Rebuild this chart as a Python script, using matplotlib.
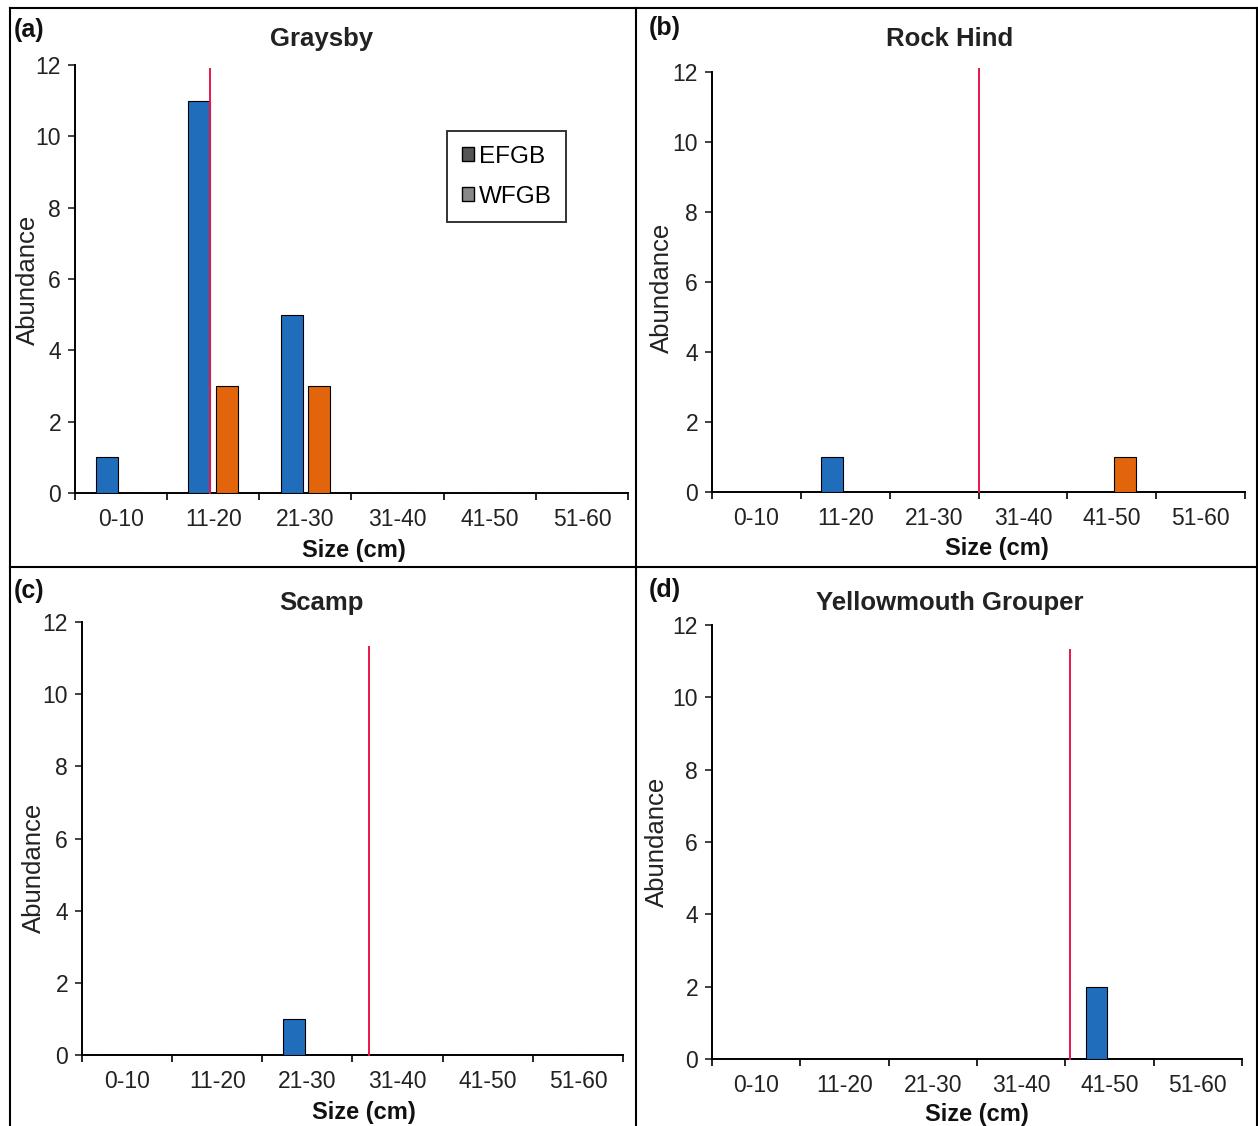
import matplotlib
matplotlib.use("Agg")
import matplotlib.pyplot as plt
from matplotlib.lines import Line2D
from matplotlib.patches import Patch
import numpy as np

plt.rcParams['font.family'] = ['Liberation Sans', 'DejaVu Sans']

categories = ['0-10', '11-20', '21-30', '31-40', '41-50', '51-60']
titles = ['Graysby', 'Rock Hind', 'Scamp', 'Yellowmouth Grouper']
panel_tags = ['(a)', '(b)', '(c)', '(d)']
efgb = {
    'Graysby': [1, 11, 5, 0, 0, 0],
    'Rock Hind': [0, 1, 0, 0, 0, 0],
    'Scamp': [0, 0, 1, 0, 0, 0],
    'Yellowmouth Grouper': [0, 0, 0, 0, 2, 0],
}
wfgb = {
    'Graysby': [0, 3, 3, 0, 0, 0],
    'Rock Hind': [0, 0, 0, 0, 1, 0],
    'Scamp': [0, 0, 0, 0, 0, 0],
    'Yellowmouth Grouper': [0, 0, 0, 0, 0, 0],
}
# red reference line: x position (in category units) and top value
red_x = [0.97, 2.5, 2.68, 3.55]
red_top = [11.9, 12.1, 11.3, 11.3]

W, H = 1258, 1126
fig = plt.figure(figsize=(W / 100, H / 100), dpi=100)

def fx(px):
    return px / W

def fy(py):
    return 1 - py / H

# axes boxes in pixels: left, right, y(0), y(12)
boxes = [(75, 628, 493, 65), (712, 1245, 492, 72), (82, 623, 1055, 622), (712, 1242, 1059, 625)]
title_pos = [(322, 39), (950, 39), (321, 603), (950, 603)]
xlabel_pos = [(354, 551), (997, 548), (364, 1113), (977, 1115)]
ylabel_pos = [(28, 280), (662, 288), (34, 868), (657, 842)]
tag_pos = [(14, 30), (649, 28), (14, 591), (649, 590)]

blue = '#1f6dbb'
orange = '#e2650c'
red = '#e8174a'
bw = 0.24
off = 0.15

x = np.arange(len(categories))
for i, name in enumerate(titles):
    l, r, y0, y12 = boxes[i]
    ax = fig.add_axes([fx(l), fy(y0), fx(r) - fx(l), fy(y12) - fy(y0)])
    ax.bar(x - off, efgb[name], width=bw, color=blue, edgecolor='black', linewidth=0.8, zorder=3)
    ax.bar(x + off, wfgb[name], width=bw, color=orange, edgecolor='black', linewidth=0.8, zorder=3)
    ax.plot([red_x[i], red_x[i]], [0, red_top[i]], color=red, linewidth=1.4, zorder=4, clip_on=False)
    ax.set_xlim(-0.5, len(categories) - 0.5)
    ax.set_ylim(0, 12)
    ax.set_yticks(range(0, 13, 2))
    ax.set_xticks(np.arange(-0.5, len(categories), 1.0))
    ax.set_xticklabels([])
    ax.set_xticks(x, minor=True)
    ax.set_xticklabels(categories, minor=True)
    ax.tick_params(axis='x', which='minor', length=0, pad=11, labelsize=16.5, colors='#222222')
    ax.tick_params(axis='x', which='major', direction='out', length=5, width=1.2)
    ax.tick_params(axis='y', direction='out', length=5, width=1.2, labelsize=16.5, pad=5, colors='#222222')
    for s in ['top', 'right']:
        ax.spines[s].set_visible(False)
    for s in ['left', 'bottom']:
        ax.spines[s].set_linewidth(1.4)
    ax.patch.set_alpha(0)
    tx, ty = title_pos[i]
    fig.text(fx(tx), fy(ty), name, ha='center', va='center', fontsize=18.5, fontweight='bold', color='#222222')
    xx, xy = xlabel_pos[i]
    fig.text(fx(xx), fy(xy), 'Size (cm)', ha='center', va='center', fontsize=17, fontweight='bold', color='#111111')
    yx, yy = ylabel_pos[i]
    fig.text(fx(yx), fy(yy), 'Abundance', ha='center', va='center', rotation=90, fontsize=18.5, color='#222222')
    gx, gy = tag_pos[i]
    fig.text(fx(gx), fy(gy), panel_tags[i], ha='left', va='center', fontsize=18, fontweight='bold', color='#111111')
    if i == 0:
        handles = [Patch(facecolor='#555555', edgecolor='black', label='EFGB'),
                   Patch(facecolor='#888888', edgecolor='black', label='WFGB')]
        leg = ax.legend(handles=handles, loc='upper left', bbox_to_anchor=(fx(447 - 75) / (fx(628) - fx(75)), (493 - 131) / (493 - 65)),
                        frameon=True, fancybox=False, edgecolor='black', fontsize=17.5,
                        handlelength=0.5, handleheight=0.5, handletextpad=0.2, labelspacing=0.75,
                        borderpad=0.6, borderaxespad=0)
        leg.get_frame().set_linewidth(1.4)

# panel borders
lw = 1.5
for (x0, y0_, x1, y1_) in [(10, 8, 1257, 8), (10, 8, 10, 1126), (636, 8, 636, 1126), (10, 567, 1257, 567), (1257, 8, 1257, 1126)]:
    fig.add_artist(Line2D([fx(x0), fx(x1)], [fy(y0_), fy(y1_)], color='black', linewidth=lw, transform=fig.transFigure))

fig.savefig('out.png', dpi=100)
